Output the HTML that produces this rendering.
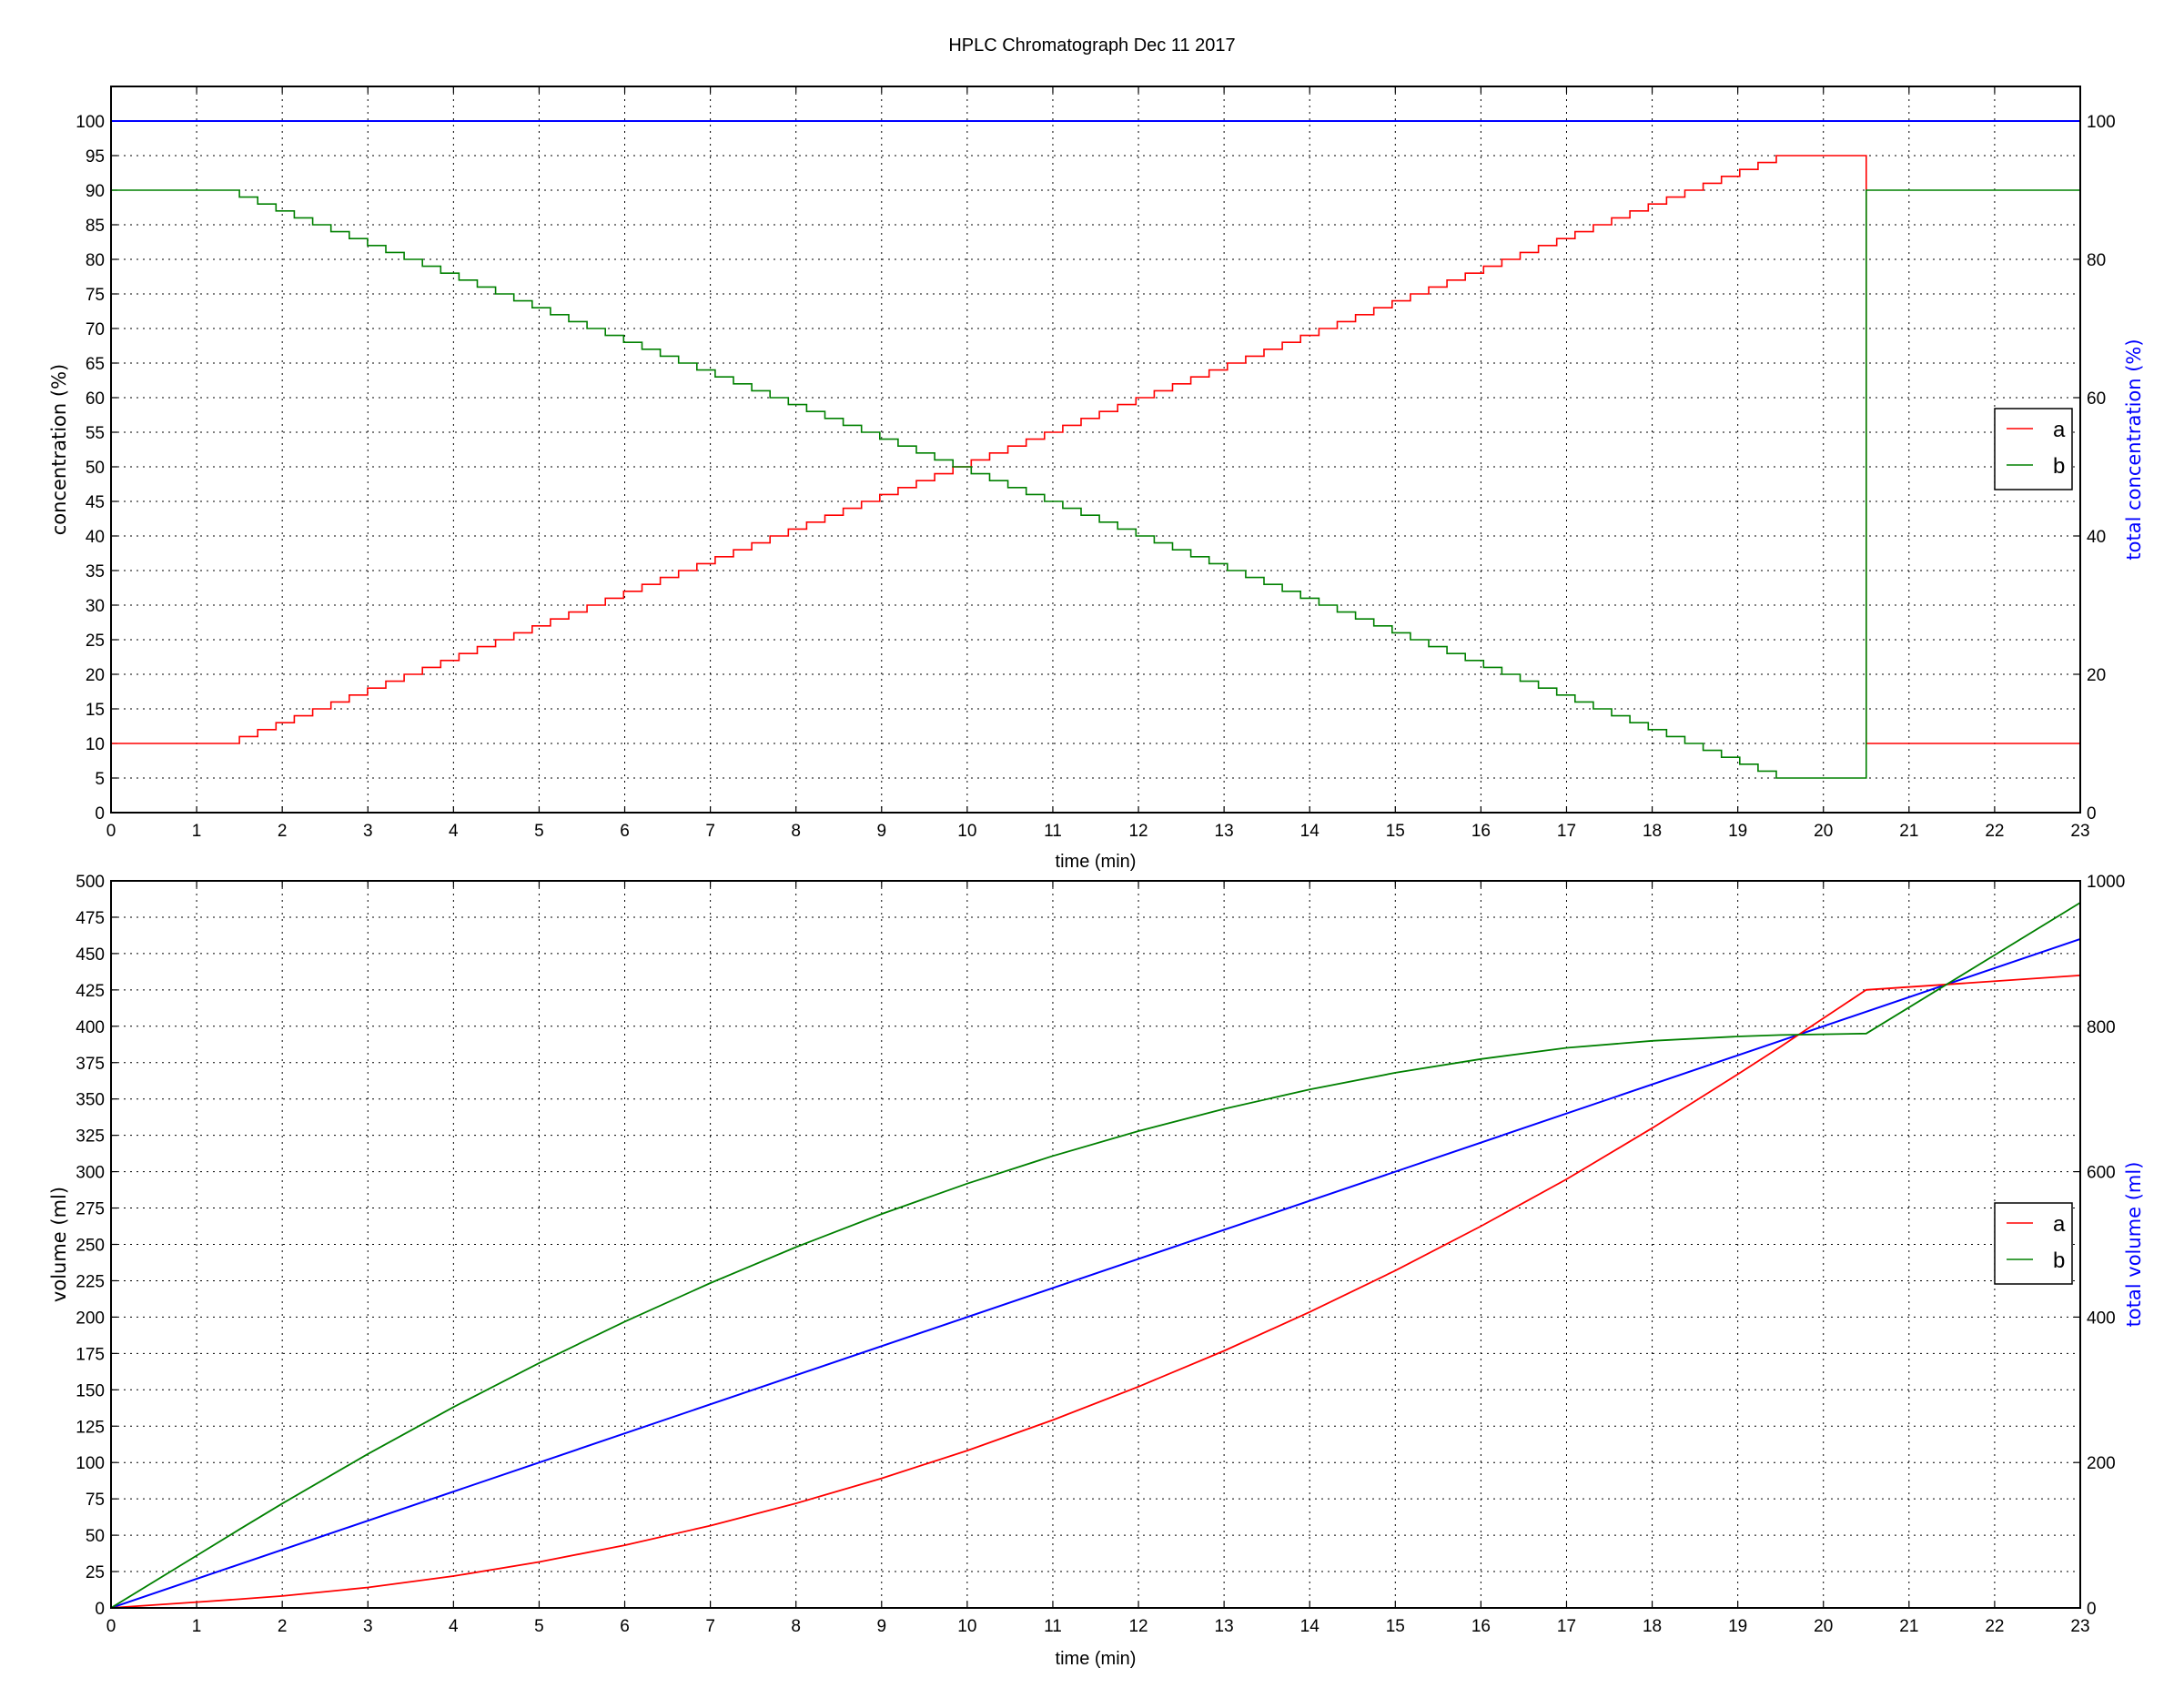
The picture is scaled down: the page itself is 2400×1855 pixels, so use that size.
<!DOCTYPE html>
<html><head><meta charset="utf-8"><title>HPLC Chromatograph</title>
<style>
html,body{margin:0;padding:0;background:#fff;}
svg{display:block;font-family:"Liberation Sans","DejaVu Sans",sans-serif;}
</style></head>
<body>
<svg id="chart" width="2400" height="1855" viewBox="0 0 2400 1855" xmlns="http://www.w3.org/2000/svg">
<rect width="2400" height="1855" fill="#fff"/>
<text x="1200" y="56" font-size="20" text-anchor="middle" fill="#000">HPLC Chromatograph Dec 11 2017</text>
<g id="top"></g>
<g id="bot"></g>
</svg>
<script>
// ---- data: concentration gradient control points ----
const gradTimes = [0, 1.5, 19.45, 20.5, 20.5, 23];
const gradA = [10, 10, 95, 95, 10, 10];
const totalConcTimes = [0, 23];
const totalConcValues = [100, 100];
// ---- data: volumes ----
const volTimes = [0,1,1.5,2,3,4,5,6,7,8,9,10,11,12,13,14,15,16,17,18,19,19.5,20.5,23];
const volA = [0,4,6,8.2,14.1,21.9,31.6,43.1,56.6,71.9,89.1,108.2,129.2,152.1,176.8,203.5,232,262.5,294.8,330,367,386,425,435];
const volB = [0,36,54,71.8,105.9,138.1,168.4,196.9,223.4,248.1,270.9,291.8,310.8,327.9,343.2,356.5,368,377.5,385.2,390,393,394,395,485];
const totalVolTimes = [0, 23];
const totalVolValues = [0, 920];
// ---- tick labels ----
const xTicks = Array.from({length:24},(_,i)=>i);
const topLeftTicks = [0,5,10,15,20,25,30,35,40,45,50,55,60,65,70,75,80,85,90,95,100];
const topRightTicks = [0,20,40,60,80,100];
const botLeftTicks = [0,25,50,75,100,125,150,175,200,225,250,275,300,325,350,375,400,425,450,475,500];
const botRightTicks = [0,200,400,600,800,1000];

const NS="http://www.w3.org/2000/svg";
function mk(tag, attrs, parent, txt){
  const e=document.createElementNS(NS,tag);
  for(const k in attrs) e.setAttribute(k,attrs[k]);
  if(txt!==undefined) e.textContent=txt;
  parent.appendChild(e); return e;
}
const L=122, R=2286;
function panel(g, top, bottom, ymax, rmax, leftTicks, rightTicks, ylabel, rlabel, xlabelY){
  const xs=t=>L+(R-L)*t/23;
  const ys=v=>bottom-(bottom-top)*v/ymax;
  const yr=v=>bottom-(bottom-top)*v/rmax;
  xTicks.forEach(t=>{
    const l=mk('line',{x1:xs(t),x2:xs(t),y1:top,y2:bottom,stroke:'#000','stroke-width':1,'stroke-dasharray':'2,5'},g);
     
    const tk=mk('line',{x1:xs(t),x2:xs(t),y1:bottom,y2:bottom-7,stroke:'#000','stroke-width':1.2},g);
     
    mk('line',{x1:xs(t),x2:xs(t),y1:top,y2:top+7,stroke:'#000','stroke-width':1.2},g);
    const tx=mk('text',{x:xs(t),y:bottom+26,'font-size':19,'text-anchor':'middle'},g,String(t));
     
  });
  leftTicks.forEach(v=>{
    const l=mk('line',{x1:L,x2:R,y1:ys(v),y2:ys(v),stroke:'#000','stroke-width':1,'stroke-dasharray':'2,5'},g);
     
    mk('line',{x1:L,x2:L+7,y1:ys(v),y2:ys(v),stroke:'#000','stroke-width':1.2},g);
    const tx=mk('text',{x:L-7,y:ys(v)+7,'font-size':19,'text-anchor':'end'},g,String(v));
     
  });
  rightTicks.forEach(v=>{
    mk('line',{x1:R-7,x2:R,y1:yr(v),y2:yr(v),stroke:'#000','stroke-width':1.2},g);
    const tx=mk('text',{x:R+7,y:yr(v)+7,'font-size':19,'text-anchor':'start'},g,String(v));
     
  });
  const yl=mk('text',{x:0,y:0,'font-size':21,'font-family':'DejaVu Sans, sans-serif','text-anchor':'middle',transform:`translate(72,${(top+bottom)/2}) rotate(-90)`},g,ylabel);
   
  const rl=mk('text',{x:0,y:0,'font-size':21,'font-family':'DejaVu Sans, sans-serif',fill:'#0000ff','text-anchor':'middle',transform:`translate(${R+66},${(top+bottom)/2}) rotate(-90)`},g,rlabel);
   
  const xl=mk('text',{x:(L+R)/2,y:xlabelY,'font-size':20,'text-anchor':'middle'},g,'time (min)');
   
  return {xs,ys,yr,top,bottom};
}
function frame(g,top,bottom){
  const f=mk('rect',{x:L,y:top,width:R-L,height:bottom-top,fill:'none',stroke:'#000','stroke-width':2},g);
   
}
function legend(g,y0){
  const b=mk('rect',{x:2192,y:y0,width:85,height:89,fill:'#fff',stroke:'#000','stroke-width':1.5},g);
   
  [['a','#ff0000',22],['b','#008000',62]].forEach(([n,c,dy])=>{
    const l=mk('line',{x1:2205,x2:2234,y1:y0+dy,y2:y0+dy,stroke:c,'stroke-width':1.5},g);
     
    const t=mk('text',{x:2256,y:y0+dy+9,'font-size':24},g,n);
     
  });
}
// --- top panel ---
const gt=document.getElementById('top');
const P1=panel(gt,95,893,105,105,topLeftTicks,topRightTicks,'concentration (%)','total concentration (%)',953);
function stepPoints(){
  const ptsA=[];
  const t0=gradTimes[1], t1=gradTimes[2], a0=gradA[1], a1=gradA[2];
  ptsA.push([0,a0]);
  let cur=a0;
  for(let k=a0+1;k<=a1;k++){
    const t=t0+(t1-t0)*(k-1-a0)/(a1-a0-1);
    ptsA.push([t,cur]); ptsA.push([t,k]); cur=k;
  }
  ptsA.push([gradTimes[3],cur]); ptsA.push([gradTimes[4],gradA[4]]); ptsA.push([23,gradA[5]]);
  return ptsA;
}
const sA=stepPoints();
const pathOf=(pts,xs,ys)=>pts.map((p,i)=>(i?'L':'M')+xs(p[0]).toFixed(1)+','+ys(p[1]).toFixed(1)).join(' ');
let p=mk('path',{d:pathOf(totalConcTimes.map((t,i)=>[t,totalConcValues[i]]),P1.xs,P1.yr),stroke:'#0000ff','stroke-width':2,fill:'none'},gt);
 
p=mk('path',{d:pathOf(sA,P1.xs,P1.ys),stroke:'#ff0000','stroke-width':1.6,fill:'none'},gt);
 
p=mk('path',{d:pathOf(sA.map(q=>[q[0],100-q[1]]),P1.xs,P1.ys),stroke:'#008000','stroke-width':1.6,fill:'none'},gt);
 
frame(gt,95,893);
legend(gt,449);
// --- bottom panel ---
const gb=document.getElementById('bot');
const P2=panel(gb,968,1767,500,1000,botLeftTicks,botRightTicks,'volume (ml)','total volume (ml)',1829);
p=mk('path',{d:pathOf(totalVolTimes.map((t,i)=>[t,totalVolValues[i]]),P2.xs,P2.yr),stroke:'#0000ff','stroke-width':2,fill:'none'},gb);
 
p=mk('path',{d:pathOf(volTimes.map((t,i)=>[t,volA[i]]),P2.xs,P2.ys),stroke:'#ff0000','stroke-width':1.8,fill:'none'},gb);
 
p=mk('path',{d:pathOf(volTimes.map((t,i)=>[t,volB[i]]),P2.xs,P2.ys),stroke:'#008000','stroke-width':1.8,fill:'none'},gb);
 
frame(gb,968,1767);
legend(gb,1322);
</script>
</body></html>
